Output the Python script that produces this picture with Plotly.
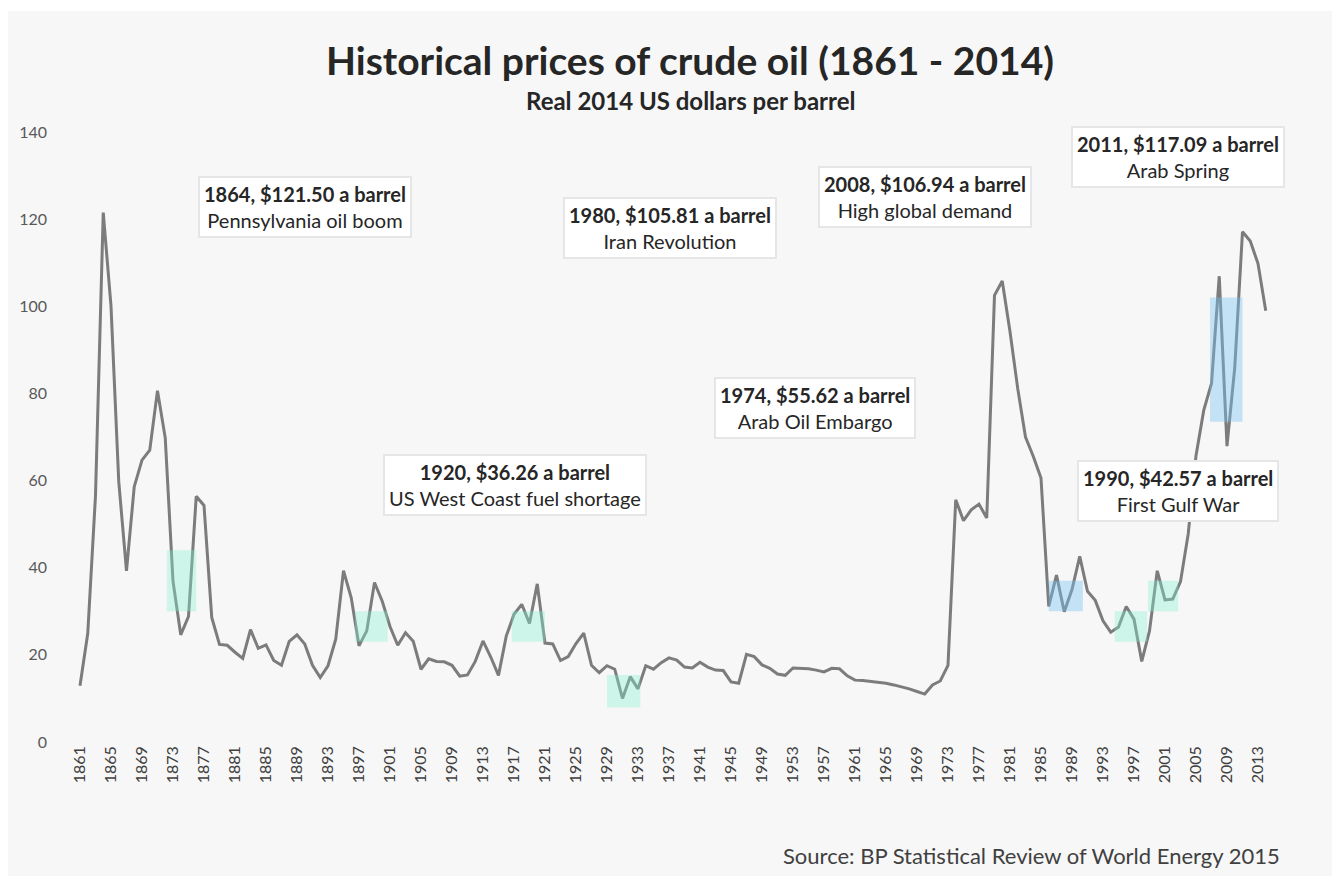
import plotly.graph_objects as go

# ---- data: real 2014 US dollars per barrel ----
years = list(range(1861, 2015))
prices = [
    12.9, 24.9, 56.5, 121.5, 100.1, 59.8, 39.3, 58.6, 64.7, 67.0,   # 1861-1870
    80.6, 69.8, 36.9, 24.6, 28.8, 56.4, 54.3, 28.6, 22.4, 22.2,     # 1871-1880
    20.6, 19.2, 25.8, 21.5, 22.3, 18.7, 17.6, 23.1, 24.6, 22.5,     # 1881-1890
    17.6, 14.8, 17.5, 23.6, 39.3, 33.1, 22.1, 25.5, 36.6, 32.3,     # 1891-1900
    26.5, 22.2, 25.1, 23.1, 16.7, 19.1, 18.5, 18.4, 17.6, 15.1,     # 1901-1910
    15.4, 18.5, 23.2, 19.5, 15.3, 24.3, 29.3, 31.6, 27.2, 36.3,     # 1911-1920
    22.7, 22.5, 18.7, 19.6, 22.6, 25.0, 17.6, 15.9, 17.5, 16.7,     # 1921-1930
    10.0, 15.0, 12.2, 17.5, 16.7, 18.2, 19.3, 18.8, 17.2, 17.0,     # 1931-1940
    18.3, 17.2, 16.5, 16.4, 13.8, 13.5, 20.1, 19.6, 17.7, 16.9,     # 1941-1950
    15.6, 15.3, 17.0, 16.9, 16.8, 16.5, 16.1, 16.9, 16.8, 15.2,     # 1951-1960
    14.2, 14.1, 13.9, 13.7, 13.5, 13.1, 12.7, 12.2, 11.6, 11.0,     # 1961-1970
    13.1, 14.0, 17.6, 55.6, 50.8, 53.3, 54.6, 51.4, 102.5, 105.8,   # 1971-1980
    94.2, 81.1, 70.0, 65.6, 60.6, 31.1, 38.3, 29.9, 35.0, 42.6,     # 1981-1990
    34.6, 32.5, 27.8, 25.2, 26.4, 31.1, 28.2, 18.5, 25.5, 39.3,     # 1991-2000
    32.6, 32.8, 36.8, 47.8, 65.7, 76.1, 82.3, 106.9, 67.9, 85.9,    # 2001-2010
    117.1, 115.0, 109.8, 99.0,                                      # 2011-2014
]

tick_years = list(range(1861, 2014, 4))
tick_labels = [str(y) for y in tick_years]
y_ticks = [0, 20, 40, 60, 80, 100, 120, 140]

# callouts: text line 1, text line 2, box centre (year, value)
callout_titles = ["1864, $121.50 a barrel", "1980, $105.81 a barrel", "2008, $106.94 a barrel",
                  "2011, $117.09 a barrel", "1974, $55.62 a barrel", "1920, $36.26 a barrel",
                  "1990, $42.57 a barrel"]
callout_notes = ["Pennsylvania oil boom", "Iran Revolution", "High global demand",
                 "Arab Spring", "Arab Oil Embargo", "US West Coast fuel shortage",
                 "First Gulf War"]
callout_x = [1890.0, 1937.1, 1970.0, 2002.7, 1955.8, 1917.1, 2002.7]
callout_y = [122.8, 118.0, 125.1, 134.3, 76.7, 59.0, 57.6]

# highlighted bands
band_x0 = [1872.2, 1896.5, 1916.7, 1929.0, 1986.0, 1994.5, 1998.8, 2006.8]
band_x1 = [1876.0, 1900.7, 1921.0, 1933.3, 1990.4, 1998.7, 2002.7, 2011.0]
band_y0 = [30, 23, 23, 8, 30, 23, 30, 73.5]
band_y1 = [44, 30, 30, 15.4, 37, 30, 37, 102]
band_kind = ["teal", "teal", "teal", "teal", "blue", "teal", "teal", "blue"]

FONT = "Lato"
W, H = 1340, 876
OFF = 8  # page body margin offset
L, R, T, B = 60 - OFF, 58, 132 - OFF, H - (742 - OFF)
pw, ph = W - L - R, H - T - B


def px_x(px):  # page pixel -> paper x
    return (px - OFF - L) / pw


def px_y(py):  # page pixel -> paper y
    return 1 - (py - OFF - T) / ph


fig = go.Figure()
fig.add_trace(go.Scatter(x=years, y=prices, mode="lines",
                         line=dict(color="#7c7c7c", width=3), hoverinfo="x+y",
                         showlegend=False))

shapes = []
band_colors = {"teal": "rgba(130,240,210,0.36)", "blue": "rgba(120,195,245,0.40)"}
for x0, x1, y0, y1, k in zip(band_x0, band_x1, band_y0, band_y1, band_kind):
    shapes.append(dict(type="rect", xref="x", yref="y", x0=x0, x1=x1, y0=y0, y1=y1,
                       fillcolor=band_colors[k], line=dict(width=0), layer="above"))
shapes.append(dict(type="rect", xref="paper", yref="paper", x0=px_x(0), x1=px_x(W + 20),
                   y0=px_y(8), y1=px_y(11), fillcolor="white", line=dict(width=0), layer="below"))

annotations = []
for t1, t2, cx, cy in zip(callout_titles, callout_notes, callout_x, callout_y):
    annotations.append(dict(
        x=cx, y=cy, xref="x", yref="y", showarrow=False,
        text=f"<b>{t1}</b><br>{t2}",
        font=dict(family=FONT, size=20, color="#262626"),
        bgcolor="white", bordercolor="#e6e6e6", borderwidth=2, borderpad=4,
        align="center"))

annotations.append(dict(x=px_x(690), y=px_y(60), xref="paper", yref="paper", showarrow=False,
                        xanchor="center", yanchor="middle",
                        text="<b>Historical prices of crude oil (1861 - 2014)</b>",
                        font=dict(family=FONT, size=39, color="#262626")))
annotations.append(dict(x=px_x(690), y=px_y(100), xref="paper", yref="paper", showarrow=False,
                        xanchor="center", yanchor="middle",
                        text="<b>Real 2014 US dollars per barrel</b>",
                        font=dict(family=FONT, size=24, color="#262626")))
annotations.append(dict(x=px_x(1031), y=px_y(855), xref="paper", yref="paper", showarrow=False,
                        xanchor="center", yanchor="middle",
                        text="Source: BP Statistical Review of World Energy 2015",
                        font=dict(family=FONT, size=22, color="#404040")))

fig.update_layout(
    width=W, height=H,
    margin=dict(l=L, r=R, t=T, b=B, autoexpand=False),
    paper_bgcolor="#f7f7f7", plot_bgcolor="#f7f7f7",
    shapes=shapes, annotations=annotations,
    xaxis=dict(range=[1858.42, 2017.13], tickmode="array", tickvals=tick_years,
               ticktext=tick_labels, tickangle=-90, showgrid=False, zeroline=False,
               showline=False, ticks="", tickfont=dict(family=FONT, size=16, color="#404040")),
    yaxis=dict(range=[0, 140], tickmode="array", tickvals=y_ticks, showgrid=False,
               zeroline=False, showline=False, ticks="", ticklabelstandoff=12,
               tickfont=dict(family=FONT, size=16, color="#595959")),
    font=dict(family=FONT),
)

fig.write_html("out.html")
